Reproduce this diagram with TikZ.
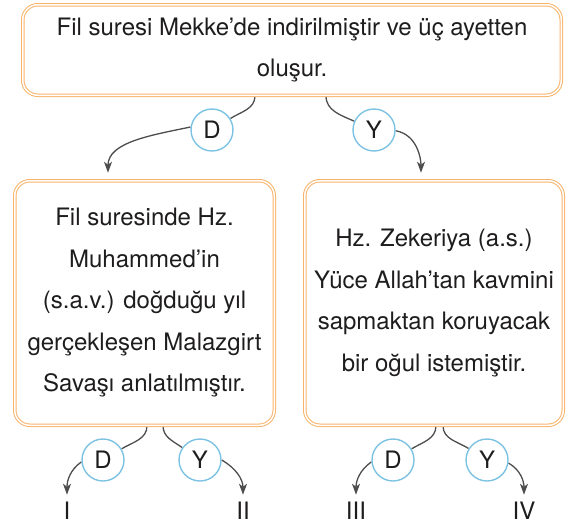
\documentclass[tikz,border=0pt]{standalone}
\usepackage{fontspec}
\setmainfont{TeX Gyre Heros}
\usetikzlibrary{arrows.meta,positioning,backgrounds}
\definecolor{boxorange}{HTML}{F9B36B}
\definecolor{ringblue}{HTML}{7CC3E3}
\definecolor{arrgray}{HTML}{4D4D4D}
\definecolor{txtgray}{HTML}{1E1C1D}

\begin{document}
\begin{tikzpicture}[x=1pt, y=1pt, every node/.style={font=\fontsize{24}{41.5}\selectfont, text=txtgray}, box/.style={draw=boxorange, double=white, double distance=1.5pt, line width=1pt, rounded corners=15pt, align=center, inner sep=0pt}, ans/.style={circle, draw=ringblue, line width=1.4pt, fill=white, minimum size=42pt, inner sep=0pt}, leaf/.style={inner sep=0pt, outer sep=7pt}, link/.style={draw=arrgray, line width=1.3pt}, arr/.style={link, -{Stealth[length=11pt,width=8pt,inset=3pt]}}]
\useasboundingbox (0,0) rectangle (573,-525);
\node[box, minimum width=538.5pt, minimum height=90.5pt] (claim) at (292,-50) {Fil suresi Mekke’de indirilmiştir ve üç ayetten\\oluşur.};
\node[box, minimum width=259.5pt, minimum height=244.5pt] (fil) at (144.5,-303) {Fil suresinde Hz.\\Muhammed’in\\(s.a.v.) doğduğu yıl\\gerçekleşen Malazgirt\\Savaşı anlatılmıştır.};
\node[box, minimum width=258.5pt, minimum height=244.5pt] (zek) at (434,-303) {Hz. Zekeriya (a.s.)\\Yüce Allah’tan kavmini\\sapmaktan koruyacak\\bir oğul istemiştir.};
\node[ans] (d0) at (212,-130) {D};
\node[ans] (y0) at (374,-130) {Y};
\node[ans] (d1) at (103,-460) {D};
\node[ans] (y1) at (200,-460) {Y};
\node[ans] (d2) at (393,-460) {D};
\node[ans] (y2) at (487,-460) {Y};
\node[leaf] (one) at (67,-510.5) {I};
\node[leaf] (two) at (243,-510.5) {II};
\node[leaf] (three) at (356,-510.5) {III};
\node[leaf] (four) at (524,-510.5) {IV};
\begin{scope}[on background layer]
% top level
\draw[link] ([xshift=-37pt]claim.south) to[out=-90,in=32] (d0);
\draw[arr, shorten >=7.5pt] (d0.172) to[out=192,in=90] ([xshift=-36.5pt]fil.north);
\draw[link] ([xshift=34pt]claim.south) to[out=-90,in=156] (y0);
\draw[arr, shorten >=7.5pt] (y0.-2) to[out=-10,in=90] ([xshift=-13pt]zek.north);
% lower level
\draw[link] ([xshift=2.5pt]fil.south) to[out=-90,in=31] (d1);
\draw[arr] (d1.185) to[out=215,in=90] (one);
\draw[link] ([xshift=18.5pt]fil.south) to[out=-90,in=145] (y1);
\draw[arr] (y1.0) to[out=-30,in=90] (two);
\draw[link] ([xshift=2pt]zek.south) to[out=-90,in=31] (d2);
\draw[arr] (d2.185) to[out=215,in=90] (three);
\draw[link] ([xshift=9pt]zek.south) to[out=-90,in=148] (y2);
\draw[arr] (y2.-8) to[out=-30,in=90] (four);
\end{scope}
\end{tikzpicture}
\end{document}
